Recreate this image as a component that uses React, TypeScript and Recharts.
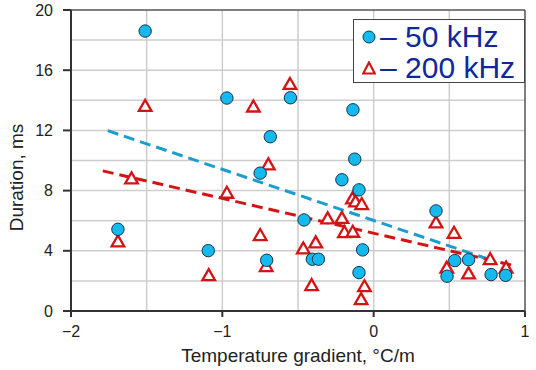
import {
  ReferenceLine,
  Scatter,
  ScatterChart,
  XAxis,
  YAxis,
} from "recharts";

// values (x: °C/m, y: ms)
const khz50 = [
  { x: -1.51, y: 18.6 }, { x: -0.97, y: 14.15 }, { x: -0.55, y: 14.17 },
  { x: -0.137, y: 13.37 }, { x: -0.683, y: 11.58 }, { x: -0.125, y: 10.09 },
  { x: -0.75, y: 9.16 }, { x: -0.21, y: 8.72 }, { x: -0.097, y: 8.05 },
  { x: -0.46, y: 6.05 }, { x: -1.093, y: 4.01 }, { x: -0.707, y: 3.37 },
  { x: -0.405, y: 3.44 }, { x: -0.365, y: 3.44 }, { x: -0.073, y: 4.06 },
  { x: -0.097, y: 2.55 }, { x: -1.69, y: 5.43 }, { x: 0.412, y: 6.65 },
  { x: 0.536, y: 3.35 }, { x: 0.627, y: 3.41 }, { x: 0.485, y: 2.31 },
  { x: 0.776, y: 2.42 }, { x: 0.872, y: 2.37 },
];

const khz200 = [
  { x: -1.51, y: 13.64 }, { x: -0.795, y: 13.6 }, { x: -0.553, y: 15.1 },
  { x: -0.696, y: 9.76 }, { x: -1.6, y: 8.83 }, { x: -0.97, y: 7.87 },
  { x: -1.69, y: 4.64 }, { x: -1.09, y: 2.4 }, { x: -0.75, y: 5.06 },
  { x: -0.71, y: 3.0 }, { x: -0.465, y: 4.17 }, { x: -0.383, y: 4.57 },
  { x: -0.41, y: 1.73 }, { x: -0.304, y: 6.17 }, { x: -0.21, y: 6.2 },
  { x: -0.193, y: 5.26 }, { x: -0.138, y: 5.28 }, { x: -0.14, y: 7.5 },
  { x: -0.12, y: 7.3 }, { x: -0.079, y: 7.12 }, { x: -0.061, y: 1.66 },
  { x: -0.083, y: 0.8 }, { x: 0.412, y: 5.9 }, { x: 0.531, y: 5.21 },
  { x: 0.483, y: 2.9 }, { x: 0.627, y: 2.51 }, { x: 0.77, y: 3.46 },
  { x: 0.875, y: 2.9 },
];

const trend50 = [{ x: -1.757, y: 11.98 }, { x: 0.8, y: 3.3 }];
const trend200 = [{ x: -1.79, y: 9.31 }, { x: 0.94, y: 2.99 }];

const xTicks = [-2, -1, 0, 1];
const yTicks = [0, 4, 8, 12, 16, 20];
const xGrid = [-1.5, -1, -0.5, 0, 0.5];
const yGrid = [2, 4, 6, 8, 10, 12, 14, 16, 18];

const CYAN = "#14b9ee";
const RED = "#d41414";
const BLUE_LINE = "#1d9ccf";
const NAVY = "#10289a";
const AXIS = "#333";
const GRID = "#cdcdcd";
const FONT = "'Liberation Sans', Arial, sans-serif";

const fmtTick = (v: number) => (v < 0 ? `\u2212${Math.abs(v)}` : `${v}`);

function Circle(props: any) {
  const { cx, cy } = props;
  if (cx == null || cy == null) return <g />;
  return <circle cx={cx} cy={cy} r={6.2} fill={CYAN} stroke="#17324a" strokeWidth={1} />;
}

function Triangle(props: any) {
  const { cx, cy } = props;
  if (cx == null || cy == null) return <g />;
  const pts = `${cx},${cy - 5.8} ${cx - 6.3},${cy + 5.2} ${cx + 6.3},${cy + 5.2}`;
  return <polygon points={pts} fill="#fff" stroke={RED} strokeWidth={2.3} strokeLinejoin="miter" />;
}

function LegendBox() {
  const row = { display: "flex", alignItems: "center", height: 31 } as const;
  const txt = { fontFamily: FONT, fontSize: 30, color: NAVY, lineHeight: "31px", marginLeft: 4 };
  return (
    <div
      style={{
        position: "absolute",
        left: 353,
        top: 19,
        width: 172,
        height: 64,
        border: "1.5px solid #444",
        background: "#fff",
        paddingLeft: 8,
        paddingTop: 1,
        boxSizing: "border-box",
      }}
    >
      <div style={row}>
        <svg width={14} height={14}>
          <circle cx={7} cy={7} r={6} fill={CYAN} stroke="#17324a" strokeWidth={1} />
        </svg>
        <span style={txt}>– 50 kHz</span>
      </div>
      <div style={row}>
        <svg width={14} height={14}>
          <polygon points="7,1.5 1.2,12.5 12.8,12.5" fill="#fff" stroke={RED} strokeWidth={2.2} />
        </svg>
        <span style={txt}>– 200 kHz</span>
      </div>
    </div>
  );
}

export default function App() {
  return (
    <div style={{ position: "absolute", left: 0, top: 0, width: 536, height: 370, background: "#fff" }}>
      <ScatterChart
        width={536}
        height={370}
        margin={{ top: 10, right: 11, bottom: 0, left: 0 }}
        style={{ fontFamily: FONT }}
      >
        {xGrid.map((v) => (
          <ReferenceLine key={`gx${v}`} x={v} stroke={GRID} strokeWidth={1.5} />
        ))}
        {yGrid.map((v) => (
          <ReferenceLine key={`gy${v}`} y={v} stroke={GRID} strokeWidth={1.5} />
        ))}
        <ReferenceLine y={20} stroke="#555" strokeWidth={1.5} />
        <ReferenceLine x={1} stroke="#555" strokeWidth={1.5} />
        <XAxis
          type="number"
          dataKey="x"
          domain={[-2, 1]}
          ticks={xTicks}
          tickFormatter={fmtTick}
          height={59}
          tickSize={6}
          tickMargin={9}
          stroke={AXIS}
          axisLine={{ stroke: AXIS, strokeWidth: 2 }}
          tickLine={{ stroke: AXIS, strokeWidth: 2 }}
          tick={{ fill: "#222", fontSize: 16 }}
          label={{
            value: "Temperature gradient, °C/m",
            position: "insideBottom",
            offset: 8,
            fill: "#222",
            fontSize: 19,
          }}
        />
        <YAxis
          type="number"
          dataKey="y"
          domain={[0, 20]}
          ticks={yTicks}
          width={71}
          tickSize={8}
          tickMargin={10}
          axisLine={{ stroke: AXIS, strokeWidth: 2 }}
          tickLine={{ stroke: AXIS, strokeWidth: 2 }}
          tick={{ fill: "#222", fontSize: 16 }}
          label={{
            value: "Duration, ms",
            angle: -90,
            position: "insideLeft",
            offset: 16,
            dy: 17,
            fill: "#222",
            fontSize: 19,
            style: { textAnchor: "middle" },
          }}
        />
        <ReferenceLine
          segment={trend50}
          stroke={BLUE_LINE}
          strokeWidth={3}
          strokeDasharray="11 6"
        />
        <ReferenceLine
          segment={trend200}
          stroke={RED}
          strokeWidth={3}
          strokeDasharray="11 6"
        />
        <Scatter
          name="200 kHz"
          data={khz200}
          shape={<Triangle />}
          isAnimationActive={false}
        />
        <Scatter
          name="50 kHz"
          data={khz50}
          shape={<Circle />}
          isAnimationActive={false}
        />
      </ScatterChart>
      <LegendBox />
    </div>
  );
}
